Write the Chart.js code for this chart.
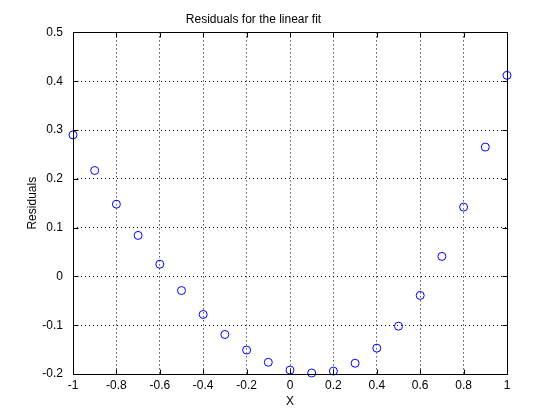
<!DOCTYPE html>
<html lang="en">
<head>
    <meta charset="UTF-8">
    <title>Residuals for the linear fit</title>
    <style>
        html, body { margin: 0; padding: 0; background: white; }
        #wrap { width: 560px; height: 420px; }
    </style>
    <script src="https://cdn.jsdelivr.net/npm/chart.js"></script>
</head>
<body>
    <div id="wrap"><canvas id="resid" width="560" height="420"></canvas></div>
    <script>
        // data
        const xValues = [-1, -0.9, -0.8, -0.7, -0.6, -0.5, -0.4, -0.3, -0.2, -0.1, 0,
                         0.1, 0.2, 0.3, 0.4, 0.5, 0.6, 0.7, 0.8, 0.9, 1];
        const residuals = [0.290, 0.217, 0.148, 0.084, 0.025, -0.029, -0.078, -0.119, -0.151, -0.176, -0.192,
                           -0.198, -0.194, -0.178, -0.147, -0.102, -0.039, 0.041, 0.142, 0.265, 0.412];
        const xTickLabels = ['-1', '-0.8', '-0.6', '-0.4', '-0.2', '0', '0.2', '0.4', '0.6', '0.8', '1'];
        const yTickLabels = ['-0.2', '-0.1', '0', '0.1', '0.2', '0.3', '0.4', '0.5'];

        const font = { family: 'Arial, "Liberation Sans", sans-serif', size: 12, weight: 'normal' };

        // box around the axes with matlab style inward ticks
        const framePlugin = {
            id: 'frame',
            afterDatasetsDraw(chart) {
                const ctx = chart.ctx;
                const a = chart.chartArea;
                const xs = chart.scales.x, ys = chart.scales.y;
                const L = Math.round(a.left) + 0.5, R = Math.round(a.right) + 0.5;
                const T = Math.round(a.top) + 0.5, B = Math.round(a.bottom) + 0.5;
                ctx.save();
                ctx.strokeStyle = '#000';
                ctx.lineWidth = 1;
                ctx.beginPath();
                ctx.rect(L, T, R - L, B - T);
                xs.ticks.forEach(t => {
                    const px = Math.round(xs.getPixelForValue(t.value)) + 0.5;
                    ctx.moveTo(px, B); ctx.lineTo(px, B - 5);
                    ctx.moveTo(px, T); ctx.lineTo(px, T + 5);
                });
                ys.ticks.forEach(t => {
                    const py = Math.round(ys.getPixelForValue(t.value)) + 0.5;
                    ctx.moveTo(L, py); ctx.lineTo(L + 5, py);
                    ctx.moveTo(R, py); ctx.lineTo(R - 5, py);
                });
                ctx.stroke();
                ctx.restore();
            }
        };

        new Chart(document.getElementById('resid'), {
            type: 'scatter',
            data: {
                datasets: [{
                    data: xValues.map((x, i) => ({ x: x, y: residuals[i] })),
                    borderColor: '#0000ff',
                    backgroundColor: 'rgba(0,0,0,0)',
                    borderWidth: 1,
                    pointRadius: 4,
                    pointHoverRadius: 4,
                    clip: false
                }]
            },
            options: {
                responsive: false,
                animation: false,
                layout: { padding: { left: 0, right: 53, top: 0, bottom: 0 } },
                plugins: {
                    legend: { display: false },
                    tooltip: { enabled: false },
                    title: {
                        display: true,
                        text: 'Residuals for the linear fit',
                        color: '#000',
                        font: font,
                        padding: { top: 12, bottom: 6 }
                    }
                },
                scales: {
                    x: {
                        type: 'linear',
                        min: -1, max: 1,
                        afterFit: s => { s.height = 46; },
                        ticks: {
                            stepSize: 0.2,
                            color: '#000',
                            font: font,
                            padding: 4,
                            maxRotation: 0,
                            autoSkip: false,
                            callback: (v, i) => xTickLabels[i]
                        },
                        grid: { color: '#000', lineWidth: 1, drawTicks: false },
                        border: { display: false, dash: [1, 3] },
                        title: { display: true, text: 'X', color: '#000', font: font, padding: { top: 0, bottom: 11 } }
                    },
                    y: {
                        type: 'linear',
                        min: -0.2, max: 0.5,
                        afterFit: s => { s.width = 73; },
                        ticks: {
                            stepSize: 0.1,
                            color: '#000',
                            font: font,
                            padding: 10,
                            autoSkip: false,
                            callback: (v, i) => yTickLabels[i]
                        },
                        grid: { color: '#000', lineWidth: 1, drawTicks: false },
                        border: { display: false, dash: [1, 3] },
                        title: { display: true, text: 'Residuals', color: '#000', font: font, padding: { top: 25, bottom: 0 } }
                    }
                }
            },
            plugins: [framePlugin]
        });
    </script>
</body>
</html>
